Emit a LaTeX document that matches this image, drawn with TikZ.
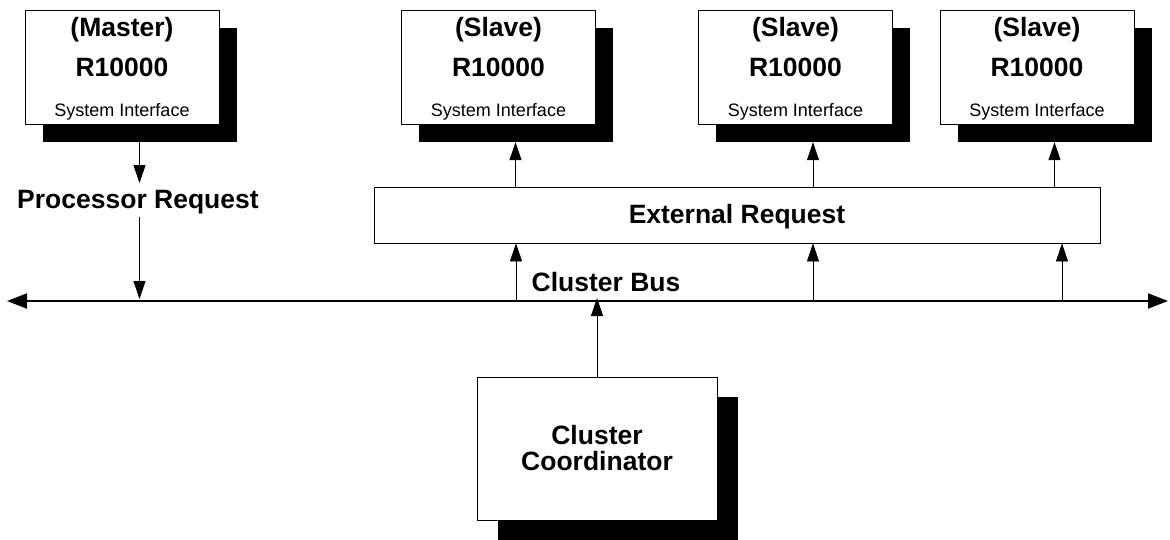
\documentclass[tikz,border=0pt]{standalone}
\usepackage{fontspec}
\setmainfont{Liberation Sans}
\usetikzlibrary{arrows.meta}
\tikzset{
  cpubox/.style={draw,fill=white,line width=0.8pt,minimum width=194pt,minimum height=114pt,inner sep=0pt},
  cpushadow/.style={fill=black,minimum width=194pt,minimum height=114pt,inner sep=0pt},
  bigtext/.style={font=\fontsize{26.5}{26}\selectfont\bfseries,inner sep=0pt,anchor=base},
  smalltext/.style={font=\fontsize{18}{18}\selectfont,inner sep=0pt,anchor=base},
  arr/.style={-{Triangle[length=18pt,width=12pt]},line width=0.8pt},
  busarr/.style={{Triangle[length=20pt,width=15pt]}-{Triangle[length=20pt,width=15pt]},line width=2pt}
}
\begin{document}
\begin{tikzpicture}[x=1pt,y=-1pt]
\useasboundingbox (0,0) rectangle (1170,540);
% processors
\node [cpushadow,name=m-s] at (139.5,85){};
\node [cpubox,name=m] at (122,67){};
\node [bigtext,name=m-t] at (122,37){(Master)};
\node [bigtext,name=m-r] at (122,77){R10000};
\node [smalltext,name=m-i] at (122,117){System Interface};
\node [cpushadow,name=s1-s] at (515.5,85){};
\node [cpubox,name=s1] at (498.5,67){};
\node [bigtext,name=s1-t] at (498.5,37){(Slave)};
\node [bigtext,name=s1-r] at (498.5,77){R10000};
\node [smalltext,name=s1-i] at (498.5,117){System Interface};
\node [cpushadow,name=s2-s] at (813,85){};
\node [cpubox,name=s2] at (795.5,67){};
\node [bigtext,name=s2-t] at (795.5,37){(Slave)};
\node [bigtext,name=s2-r] at (795.5,77){R10000};
\node [smalltext,name=s2-i] at (795.5,117){System Interface};
\node [cpushadow,name=s3-s] at (1054.5,85){};
\node [cpubox,name=s3] at (1037,67){};
\node [bigtext,name=s3-t] at (1037,37){(Slave)};
\node [bigtext,name=s3-r] at (1037,77){R10000};
\node [smalltext,name=s3-i] at (1037,117){System Interface};
% requests and bus
\node [bigtext,inner sep=2.5pt,name=pr] at (138,209){Processor Request};
\node [draw,line width=0.8pt,minimum width=726pt,minimum height=56pt,inner sep=0pt,name=ext] at (737,215){};
\node [bigtext,name=ext-t] at (737,224){External Request};
\node [bigtext,name=bus-t] at (606,291){Cluster Bus};
\coordinate (busl) at (7,301);
\coordinate (busr) at (1168,301);
\coordinate (b1) at (516,301);
\coordinate (b2) at (813,301);
\coordinate (b3) at (1062,301);
\draw[busarr] (busl)--(busr);
% coordinator
\node [fill=black,minimum width=240pt,minimum height=143pt,inner sep=0pt,name=cc-s] at (618,468.5){};
\node [draw,fill=white,line width=0.8pt,minimum width=240pt,minimum height=143pt,align=center,
  font=\fontsize{26.5}{26}\selectfont\bfseries,name=cc] at (597,448.5){Cluster\\Coordinator};
% connectors
\draw[arr,shorten >=5pt] (m-s.south)--(pr.north -| m-s.south);
\draw[arr,shorten >=2pt] (pr.south -| m-s.south)--(m-s.south |- busl);
\draw[arr] (ext.north -| s1-s.south)--(s1-s.south);
\draw[arr] (ext.north -| s2-s.south)--(s2-s.south);
\draw[arr] (ext.north -| s3-s.south)--(s3-s.south);
\draw[arr] (b1)--(b1 |- ext.south);
\draw[arr] (b2)--(b2 |- ext.south);
\draw[arr] (b3)--(b3 |- ext.south);
\draw[arr,shorten >=-3pt] (cc.north)--(cc.north |- busl);
\end{tikzpicture}
\end{document}
